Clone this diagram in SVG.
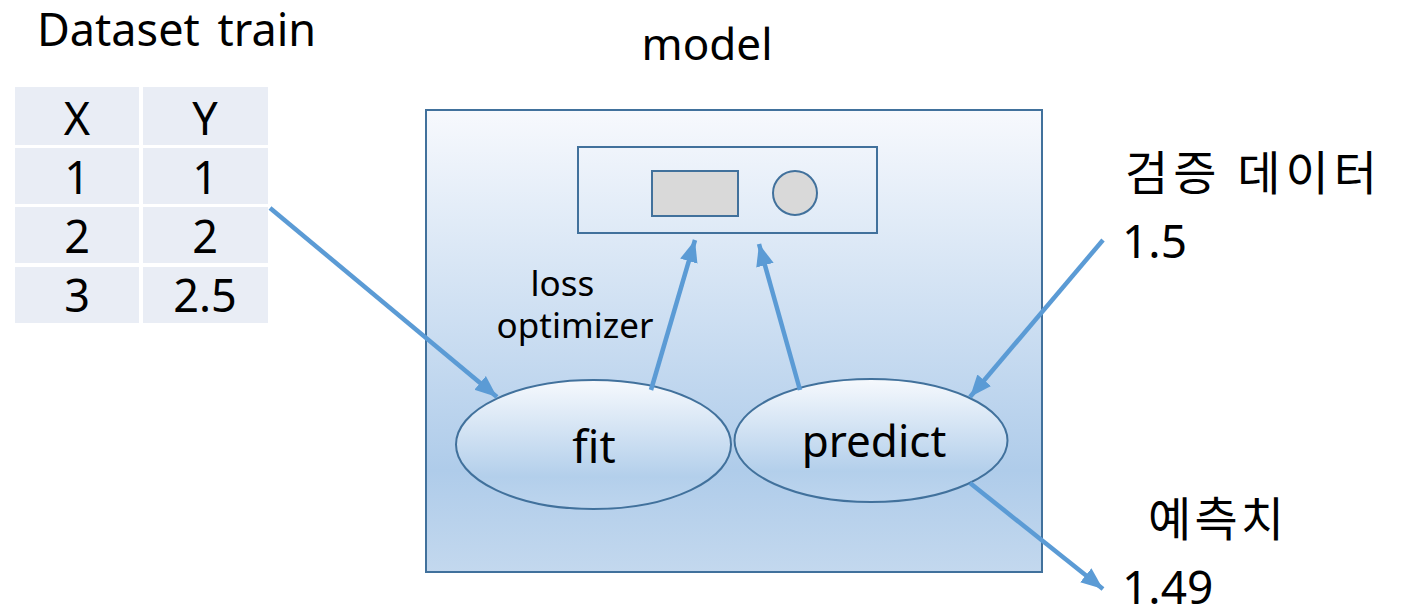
<svg xmlns="http://www.w3.org/2000/svg" width="1404" height="613" viewBox="0 0 1404 613">
  <style>
    .txt { font-family: "Noto Sans", "Open Sans", "Noto Sans CJK KR", sans-serif; fill: #000; }
    .kr { font-family: "Noto Sans CJK KR", "Noto Sans", sans-serif; fill: #000; }
    .cell { fill: #E9EDF5; }
    .edge { stroke: #5B9BD5; stroke-width: 4.5; fill: none; marker-end: url(#arrow); }
    .outline { stroke: #41719C; stroke-width: 2; }
  </style>
  <defs>
    <linearGradient id="boxFill" x1="0" y1="0" x2="0" y2="1">
      <stop offset="0" stop-color="#F7F9FD"/>
      <stop offset="0.78" stop-color="#AFCCEA"/>
      <stop offset="1" stop-color="#C3D8EE"/>
    </linearGradient>
    <linearGradient id="ovalFill" x1="0" y1="0" x2="0" y2="1">
      <stop offset="0" stop-color="#F6F9FD"/>
      <stop offset="0.75" stop-color="#B3CFEB"/>
      <stop offset="1" stop-color="#BDD5EE"/>
    </linearGradient>
    <marker id="arrow" markerUnits="userSpaceOnUse" markerWidth="24" markerHeight="20" refX="22" refY="10" orient="auto">
      <path d="M0,1 L22,10 L0,19 Z" fill="#5B9BD5"/>
    </marker>
  </defs>

  <!-- training data table -->
  <g id="dataset">
    <text class="txt" x="37" y="46" font-size="45" word-spacing="6">Dataset train</text>
    <rect class="cell" x="15" y="87" width="124" height="58"/>
    <rect class="cell" x="143" y="87" width="125" height="58"/>
    <rect class="cell" x="15" y="148" width="124" height="56"/>
    <rect class="cell" x="143" y="148" width="125" height="56"/>
    <rect class="cell" x="15" y="207" width="124" height="56"/>
    <rect class="cell" x="143" y="207" width="125" height="56"/>
    <rect class="cell" x="15" y="267" width="124" height="56"/>
    <rect class="cell" x="143" y="267" width="125" height="56"/>
    <g class="txt" font-size="45" text-anchor="middle">
      <text x="77" y="135">X</text>
      <text x="205" y="135">Y</text>
      <text x="77" y="194">1</text>
      <text x="205" y="194">1</text>
      <text x="77" y="253">2</text>
      <text x="205" y="253">2</text>
      <text x="77" y="312">3</text>
      <text x="205" y="312">2.5</text>
    </g>
  </g>

  <!-- model container -->
  <g id="model">
    <text class="txt" x="707" y="60" font-size="44" text-anchor="middle">model</text>
    <rect class="outline" x="426" y="110" width="616" height="462" fill="url(#boxFill)"/>
  </g>

  <!-- parameters block -->
  <g id="params">
    <rect class="outline" x="578" y="147" width="299" height="86" fill="none"/>
    <rect class="outline" x="652" y="171" width="86" height="45" fill="#D9D9D9"/>
    <circle class="outline" cx="795" cy="193" r="22" fill="#D9D9D9"/>
  </g>

  <g id="loss-label">
    <text class="txt" font-size="35" text-anchor="middle">
      <tspan x="567" y="296">loss</tspan>
      <tspan x="575" y="338">optimizer</tspan>
    </text>
  </g>

  <g id="fit">
    <ellipse class="outline" cx="593.5" cy="444.5" rx="137.5" ry="64.5" fill="url(#ovalFill)"/>
    <text class="txt" x="594" y="463" font-size="45" text-anchor="middle">fit</text>
  </g>

  <g id="predict">
    <ellipse class="outline" cx="871" cy="440.5" rx="136.5" ry="61.5" fill="url(#ovalFill)"/>
    <text class="txt" x="874" y="457" font-size="44" text-anchor="middle">predict</text>
  </g>

  <g id="validation">
    <text class="kr" x="1125" y="190" font-size="47" textLength="252" lengthAdjust="spacing">검증 데이터</text>
    <text class="txt" x="1122" y="258" font-size="46">1.5</text>
  </g>

  <g id="prediction">
    <text class="kr" x="1148" y="536" font-size="47" textLength="136" lengthAdjust="spacing">예측치</text>
    <text class="txt" x="1122" y="604" font-size="46">1.49</text>
  </g>

  <!-- connectors -->
  <g id="connectors">
    <path class="edge" d="M270,208 L497,397"/>
    <path class="edge" d="M651,390 L695,240"/>
    <path class="edge" d="M800,390 L759,244"/>
    <path class="edge" d="M1103,240 L970,397"/>
    <path class="edge" d="M970,483 L1103,589"/>
  </g>
</svg>
